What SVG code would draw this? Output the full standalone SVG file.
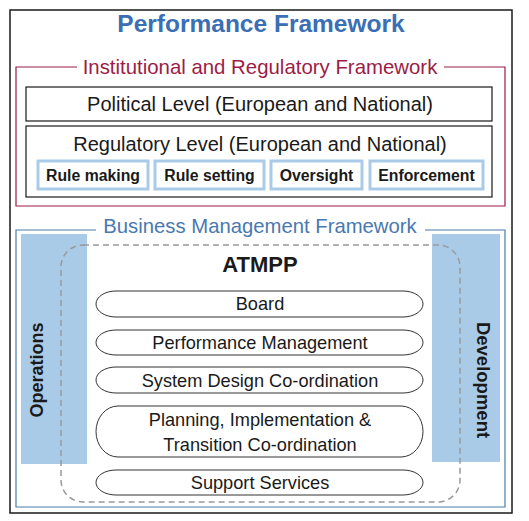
<svg xmlns="http://www.w3.org/2000/svg" width="529" height="521" viewBox="0 0 529 521">
<style>
text{font-family:"Liberation Sans",Arial,sans-serif;fill:#1a1a1a}
.box{fill:#fff;stroke:#1a1a1a;stroke-width:1.2}
.sub{fill:#fff;stroke:#a9cbe8;stroke-width:3}
.subt{font-size:15.8px;font-weight:bold;text-anchor:middle}
.pill{fill:#fff;stroke:#333;stroke-width:1}
.pt{font-size:18.2px;text-anchor:middle}
.bar{fill:#a9cbe8}
</style>
<rect width="529" height="521" fill="#fff"/>
<g id="performance">
<rect x="10" y="10" width="502" height="503" fill="none" stroke="#1a1a1a" stroke-width="1.5"/>
<text x="261" y="32" font-size="24.5" font-weight="bold" text-anchor="middle" style="fill:#3b6fb5">Performance Framework</text>
</g>
<g id="institutional">
<path d="M77,67 H16 V206 H505 V67 H444" fill="none" stroke="#9c1c45" stroke-width="1.2"/>
<text x="260" y="74" font-size="20.4" text-anchor="middle" style="fill:#9c1c45">Institutional and Regulatory Framework</text>
</g>
<g id="political">
<rect class="box" x="26" y="87" width="466" height="34"/>
<text x="260" y="111" font-size="20" text-anchor="middle">Political Level (European and National)</text>
</g>
<g id="regulatory">
<rect class="box" x="26" y="126" width="466" height="71"/>
<text x="260" y="151" font-size="20" text-anchor="middle">Regulatory Level (European and National)</text>
</g>
<g id="rule-making"><rect class="sub" x="38" y="161" width="110" height="28"/><text class="subt" x="93" y="180.5">Rule making</text></g>
<g id="rule-setting"><rect class="sub" x="155" y="161" width="109" height="28"/><text class="subt" x="209.5" y="180.5">Rule setting</text></g>
<g id="oversight"><rect class="sub" x="271" y="161" width="91" height="28"/><text class="subt" x="316.5" y="180.5">Oversight</text></g>
<g id="enforcement"><rect class="sub" x="370" y="161" width="113" height="28"/><text class="subt" x="426.5" y="180.5">Enforcement</text></g>
<g id="business">
<path d="M96,230 H16 V507 H505 V230 H425" fill="none" stroke="#4a7da6" stroke-width="1.2"/>
<text x="260" y="233" font-size="20.3" text-anchor="middle" style="fill:#4a78b0">Business Management Framework</text>
</g>
<g id="operations">
<rect class="bar" x="21" y="234" width="66" height="230"/>
<text transform="translate(43,370) rotate(-90)" font-size="18" font-weight="bold" text-anchor="middle">Operations</text>
</g>
<g id="development">
<rect class="bar" x="432" y="234" width="68" height="228"/>
<text transform="translate(477,380) rotate(90)" font-size="18.5" font-weight="bold" text-anchor="middle">Development</text>
</g>
<g id="atmpp">
<rect x="61" y="245" width="399" height="257" rx="22" ry="22" fill="none" stroke="#999" stroke-width="1.5" stroke-dasharray="6,4"/>
<text x="260" y="272" font-size="22" font-weight="bold" text-anchor="middle">ATMPP</text>
</g>
<g id="board"><rect class="pill" x="96" y="291" width="327" height="26" rx="20" ry="13"/><text class="pt" x="260" y="310">Board</text></g>
<g id="perf-mgmt"><rect class="pill" x="96" y="330" width="327" height="25" rx="20" ry="12.5"/><text class="pt" x="260" y="349">Performance Management</text></g>
<g id="system-design"><rect class="pill" x="96" y="367" width="327" height="26" rx="20" ry="13"/><text class="pt" x="260" y="387">System Design Co-ordination</text></g>
<g id="planning"><rect class="pill" x="96" y="406" width="327" height="51" rx="22" ry="25.5"/><text class="pt" x="260" y="426">Planning, Implementation &amp;</text><text class="pt" x="260" y="451">Transition Co-ordination</text></g>
<g id="support"><rect class="pill" x="96" y="470" width="327" height="25" rx="20" ry="12.5"/><text class="pt" x="260" y="489">Support Services</text></g>
<g id="connectors"></g>
</svg>
